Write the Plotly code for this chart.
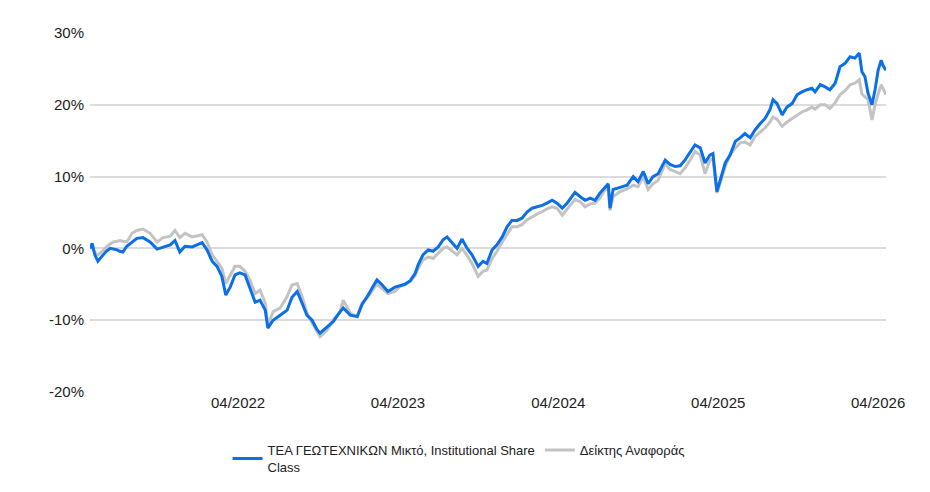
import plotly.graph_objects as go

dates = [
    "2021-04-28", "2021-05-03", "2021-05-09", "2021-05-16", "2021-05-28", "2021-06-06", "2021-06-13",
    "2021-06-20", "2021-06-29", "2021-07-05", "2021-07-12", "2021-07-21", "2021-08-02", "2021-08-13",
    "2021-08-27", "2021-09-12", "2021-09-28", "2021-10-12", "2021-10-28", "2021-11-08", "2021-11-19",
    "2021-12-01", "2021-12-17", "2021-12-28", "2022-01-09", "2022-01-20", "2022-02-01", "2022-02-12",
    "2022-02-23", "2022-03-04", "2022-03-14", "2022-03-25", "2022-04-05", "2022-04-17", "2022-04-28",
    "2022-05-10", "2022-05-21", "2022-06-02", "2022-06-08", "2022-06-20", "2022-07-06", "2022-07-22",
    "2022-08-02", "2022-08-14", "2022-08-25", "2022-09-05", "2022-09-17", "2022-09-28", "2022-10-05",
    "2022-10-21", "2022-11-04", "2022-11-20", "2022-11-27", "2022-12-13", "2022-12-29", "2023-01-09",
    "2023-01-23", "2023-02-08", "2023-02-12", "2023-02-24", "2023-03-09", "2023-03-25", "2023-04-06",
    "2023-04-17", "2023-04-29", "2023-05-10", "2023-05-17", "2023-05-28", "2023-06-09", "2023-06-20",
    "2023-07-02", "2023-07-13", "2023-07-22", "2023-08-02", "2023-08-14", "2023-08-25", "2023-09-06",
    "2023-09-17", "2023-10-01", "2023-10-12", "2023-10-21", "2023-11-02", "2023-11-13", "2023-11-25",
    "2023-12-06", "2023-12-17", "2023-12-29", "2024-01-09", "2024-01-21", "2024-02-01", "2024-02-13",
    "2024-02-24", "2024-03-06", "2024-03-18", "2024-03-29", "2024-04-10", "2024-04-21", "2024-05-02",
    "2024-05-09", "2024-05-21", "2024-06-01", "2024-06-13", "2024-06-24", "2024-07-05", "2024-07-17",
    "2024-07-24", "2024-07-28", "2024-08-04", "2024-08-20", "2024-09-05", "2024-09-19", "2024-09-30",
    "2024-10-12", "2024-10-23", "2024-11-03", "2024-11-15", "2024-12-01", "2024-12-12", "2024-12-24",
    "2025-01-04", "2025-01-15", "2025-01-27", "2025-02-07", "2025-02-19", "2025-03-02", "2025-03-13",
    "2025-03-20", "2025-03-29", "2025-04-05", "2025-04-17", "2025-04-28", "2025-05-10", "2025-05-21",
    "2025-06-01", "2025-06-13", "2025-06-24", "2025-07-06", "2025-07-17", "2025-07-28", "2025-08-04",
    "2025-08-13", "2025-08-25", "2025-09-05", "2025-09-17", "2025-09-28", "2025-10-09", "2025-10-21",
    "2025-11-01", "2025-11-08", "2025-11-20", "2025-12-01", "2025-12-12", "2025-12-24", "2026-01-04",
    "2026-01-16", "2026-01-27", "2026-02-07", "2026-02-17", "2026-02-23", "2026-03-02", "2026-03-09",
    "2026-03-18", "2026-03-25", "2026-04-01", "2026-04-08", "2026-04-12", "2026-04-19",
]

fund = [
    0.0, 0.7, -0.9, -1.8, -0.9, -0.3, 0.0,
    -0.1, -0.2, -0.4, -0.5, 0.3, 0.9, 1.4,
    1.5, 0.9, -0.1, 0.2, 0.5, 1.1, -0.5,
    0.3, 0.2, 0.5, 0.8, -0.2, -1.8, -2.5,
    -3.9, -6.5, -5.4, -3.7, -3.4, -3.7, -5.6,
    -7.5, -7.2, -8.6, -11.1, -10.0, -9.3, -8.6,
    -6.8, -6.0, -7.6, -9.3, -10.0, -11.3, -11.8,
    -10.9, -10.2, -8.8, -8.3, -9.3, -9.5, -7.8,
    -6.5, -4.8, -4.4, -5.1, -6.0, -5.4, -5.2,
    -5.0, -4.5, -3.5, -2.3, -0.9, -0.2, -0.4,
    0.2, 1.2, 1.6, 0.9, 0.0, 1.3, 0.0,
    -0.9, -2.5, -1.8, -2.1, -0.2, 0.5, 1.6,
    3.0, 3.9, 3.9, 4.2, 5.1, 5.6, 5.8,
    6.0, 6.3, 6.7, 6.3, 5.6, 6.3, 7.2,
    7.8, 7.2, 6.7, 7.0, 6.7, 7.7, 8.6,
    9.0, 5.6, 8.2, 8.5, 8.8, 10.0, 9.3,
    10.7, 9.0, 10.0, 10.4, 12.3, 11.7, 11.4,
    11.5, 12.3, 13.5, 14.4, 14.0, 11.9, 13.0,
    13.2, 7.9, 9.5, 11.9, 13.0, 14.9, 15.4,
    16.0, 15.4, 16.5, 17.4, 18.1, 19.3, 20.7,
    20.2, 18.6, 19.7, 20.2, 21.4, 21.8, 22.1,
    22.3, 21.8, 22.8, 22.5, 22.1, 23.0, 25.3,
    25.8, 26.7, 26.5, 27.2, 24.6, 23.9, 21.6,
    20.0, 22.1, 24.8, 26.2, 25.5, 24.8,
]

benchmark = [
    0.0, 0.2, -0.6, -0.9, -0.3, 0.3, 0.6,
    0.9, 1.0, 1.1, 1.0, 0.9, 2.1, 2.5,
    2.7, 2.1, 0.9, 1.5, 1.7, 2.5, 1.5,
    2.1, 1.6, 1.7, 1.9, 0.9, -0.9, -1.8,
    -2.8, -4.9, -3.7, -2.5, -2.5, -3.2, -4.4,
    -6.3, -5.8, -7.6, -10.7, -8.8, -8.3, -6.7,
    -5.1, -4.9, -6.7, -9.0, -10.4, -11.6, -12.3,
    -11.4, -10.0, -8.8, -7.2, -9.0, -9.5, -7.6,
    -6.7, -5.3, -5.0, -5.6, -6.3, -6.0, -5.3,
    -5.0, -4.6, -3.8, -2.8, -1.6, -1.2, -1.4,
    -0.6, 0.0, 0.2, -0.3, -0.9, 0.0, -1.0,
    -2.1, -3.9, -3.2, -3.0, -1.4, -0.4, 0.9,
    2.0, 3.0, 3.0, 3.3, 4.0, 4.4, 4.8,
    5.1, 5.5, 5.8, 5.6, 4.6, 5.5, 6.3,
    6.8, 6.5, 5.8, 6.2, 6.3, 7.0, 8.2,
    8.3, 5.3, 7.2, 7.9, 8.3, 8.8, 8.6,
    10.0, 8.2, 9.0, 9.5, 11.8, 11.0, 10.7,
    10.4, 11.2, 12.3, 13.5, 13.0, 10.4, 12.3,
    12.5, 7.7, 9.0, 11.4, 13.0, 14.0, 14.7,
    14.8, 14.4, 15.6, 16.2, 16.8, 17.6, 18.3,
    18.0, 17.0, 17.6, 18.1, 18.6, 19.0, 19.3,
    19.7, 19.4, 20.0, 20.0, 19.5, 20.3, 21.4,
    22.0, 22.8, 23.0, 23.5, 21.5, 21.1, 20.7,
    17.9, 20.0, 21.5, 22.8, 22.3, 21.4,
]

series_names = [
    "ΤΕΑ ΓΕΩΤΕΧΝΙΚΩΝ Μικτό, Institutional Share<br>Class",
    "Δείκτης Αναφοράς",
]
x_tick_values = ["2022-04-01", "2023-04-01", "2024-04-01", "2025-04-01", "2026-04-01"]
x_tick_labels = ["04/2022", "04/2023", "04/2024", "04/2025", "04/2026"]
y_tick_values = [-20, -10, 0, 10, 20, 30]
y_tick_labels = ["-20%", "-10%", "0%", "10%", "20%", "30%"]

FONT = "Liberation Sans, Arial, sans-serif"

fig = go.Figure()
fig.add_trace(go.Scatter(
    x=dates, y=benchmark, name=series_names[1], mode="lines",
    line=dict(color="#c3c3c3", width=3), legendrank=2,
))
fig.add_trace(go.Scatter(
    x=dates, y=fund, name=series_names[0], mode="lines",
    line=dict(color="#0b6fe8", width=3), legendrank=1,
))

# the page body adds an 8px margin, so the figure is 8px smaller than the window
fig.update_layout(
    width=922, height=484,
    margin=dict(l=82, r=44, t=25, b=100, autoexpand=False),
    paper_bgcolor="white", plot_bgcolor="white",
    font=dict(family=FONT, size=15, color="#222222"),
    showlegend=True,
    legend=dict(
        orientation="h", x=0.463, xanchor="center", y=-0.12, yanchor="top",
        font=dict(size=13, color="#222222"),
        itemwidth=30, tracegroupgap=0,
    ),
    xaxis=dict(
        type="date", range=["2021-04-28", "2026-04-19"],
        tickvals=x_tick_values, ticktext=x_tick_labels,
        showgrid=False, zeroline=False, showline=False, ticks="",
        tickfont=dict(size=15, color="#222222"),
    ),
    yaxis=dict(
        range=[-20, 30], tickvals=y_tick_values, ticktext=y_tick_labels,
        showgrid=True, gridcolor="#dcdcdc", gridwidth=2,
        zeroline=False, showline=False, ticks="", ticklabelstandoff=5,
        tickfont=dict(size=15, color="#222222"),
    ),
)

fig.write_html("out.html")
